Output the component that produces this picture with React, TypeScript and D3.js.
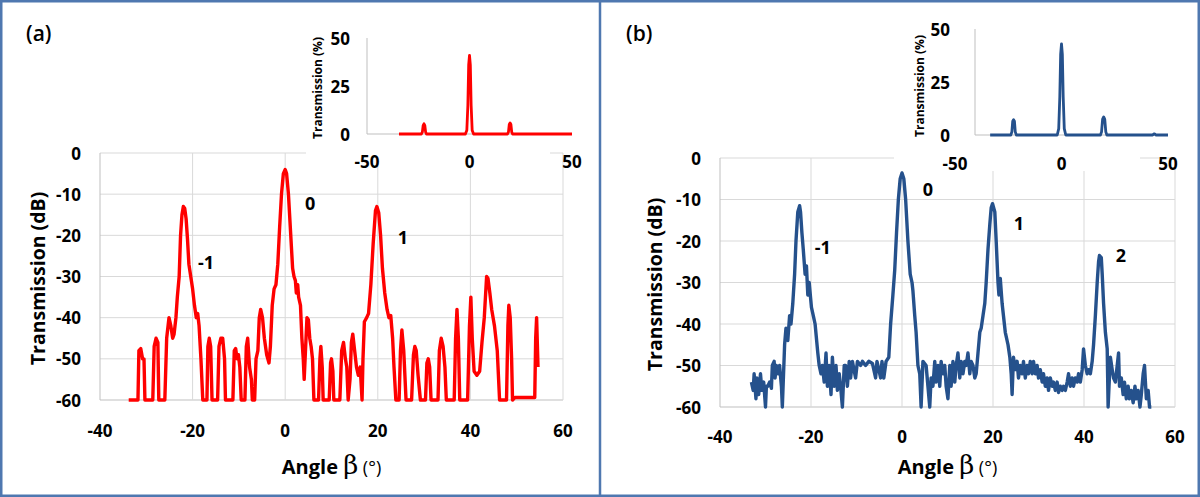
import React from 'react'
import * as d3 from 'd3'

// (a) measured trace, dB vs angle
const angleA = [
  -33.8, -31.8, -31.6, -31.2, -30.8, -30.5, -30.3, -28.6, -28.3, -27.9, -27.5, -27.3, -26.0, -25.6,
  -25.1, -24.7, -24.3, -24.0, -23.6, -23.3, -22.9, -22.6, -22.3, -22.0, -21.7, -21.4, -21.1, -20.8,
  -20.4, -20.0, -19.6, -19.2, -18.9, -18.6, -18.2, -17.8, -16.9, -16.7, -16.4, -16.1, -15.8, -14.6,
  -14.3, -13.9, -13.5, -13.1, -12.9, -11.3, -11.0, -10.7, -10.4, -10.1, -9.8, -9.5, -8.7, -8.4, -8.1,
  -7.7, -7.3, -7.1, -6.6, -6.3, -5.9, -5.6, -5.3, -4.9, -4.5, -4.0, -3.5, -3.2, -2.8, -2.4, -2.0, -1.6,
  -1.2, -0.8, -0.4, 0, 0.3, 0.7, 1.2, 1.6, 1.9, 2.2, 2.4, 2.7, 2.9, 3.3, 3.6, 3.9, 4.1, 4.5, 4.7, 5.0,
  5.3, 5.6, 5.9, 6.2, 7.2, 7.5, 7.7, 8.0, 8.2, 9.5, 9.8, 10.0, 10.3, 10.5, 11.8, 12.2, 12.6, 13.0,
  13.3, 13.6, 14.0, 14.3, 14.6, 15.0, 15.4, 15.8, 16.2, 16.6, 16.8, 17.1, 17.6, 18.0, 18.5, 19.0,
  19.5, 19.8, 20.2, 20.6, 21.0, 21.5, 22.0, 22.4, 22.8, 23.2, 23.5, 23.9, 24.6, 24.9, 25.2, 25.6,
  26.1, 27.3, 27.7, 28.0, 28.3, 28.7, 29.2, 30.3, 30.6, 30.9, 31.2, 31.5, 33.0, 33.3, 33.7, 34.1,
  34.5, 34.8, 36.5, 36.8, 37.1, 37.4, 37.7, 39.4, 39.8, 40.1, 40.4, 40.8, 41.4, 42.0, 42.5, 43.0,
  43.5, 43.8, 44.2, 44.6, 45.2, 45.8, 46.3, 47.8, 48.1, 48.3, 48.6, 48.9, 49.1, 49.6, 53.9, 54.1,
  54.3, 54.5, 54.6,
]
const dbA = [
  -60, -60, -48, -47.5, -50, -50, -60, -60, -47, -45, -46, -60, -60, -45,
  -40, -42, -45, -44, -40, -35, -30, -20, -15, -13, -13.5, -16, -21, -27,
  -30, -33, -37, -40, -39, -42, -50, -60, -60, -47, -45, -47, -60, -60,
  -47, -45, -45, -50, -60, -60, -48, -47.5, -50, -49, -52, -60, -60, -47, -45,
  -52, -55, -60, -60, -50, -48, -40, -38, -40, -45, -49, -51, -47, -37, -33, -32, -27,
  -18, -10, -5, -4, -5, -10, -20, -28, -30, -31, -34, -32, -35, -37, -45, -50, -55, -45, -40, -40.5,
  -45, -47, -50, -60, -60, -50, -47, -52, -60, -60, -51, -50, -53, -60, -60, -48, -46, -50,
  -52, -60, -55, -46, -44, -48, -52, -54, -52, -60, -50, -41, -40, -39, -32, -22,
  -14, -13, -14.5, -20, -28, -34, -38, -40, -39.5, -45, -52, -60, -60, -48, -43, -48,
  -60, -60, -49, -47, -48, -54, -60, -60, -51, -50, -52, -60, -60, -48, -45, -47,
  -52, -60, -60, -45, -38, -45, -60, -60, -42, -35, -45, -53, -54, -53, -46, -40,
  -30, -30.5, -34, -38, -42, -48, -60, -60, -42, -37, -40, -50, -60, -59.4, -59.4, -45,
  -40, -48, -52,
]

// (b) measured trace, dB vs angle
const angleB = [
  -33.1, -32.7, -32.5, -32.1, -31.9, -31.5, -31.1, -30.8, -30.4, -30.0, -29.8, -29.5, -29.1, -28.7,
  -28.5, -28.1, -27.9, -27.6, -27.2, -26.9, -26.5, -26.3, -25.8, -25.5, -25.1, -24.7, -24.4, -24.0,
  -23.6, -23.3, -22.9, -22.5, -22.3, -22.0, -21.7, -21.3, -21.0, -20.7, -20.4, -19.9, -19.5, -19.1,
  -18.5, -18.2, -17.8, -17.5, -17.1, -16.7, -16.4, -16.0, -15.6, -15.3, -14.9, -14.5, -14.2, -13.8,
  -13.5, -13.1, -12.7, -12.4, -12.0, -11.6, -11.3, -10.9, -10.2, -9.8, -9.1, -8.7, -8.0, -7.3, -6.5,
  -5.8, -5.5, -4.7, -4.4, -4.0, -3.5, -2.9, -2.5, -2.0, -1.6, -1.2, -0.8, -0.4, 0, 0.4, 0.8, 1.3, 1.8,
  2.2, 2.4, 2.8, 3.1, 3.5, 3.9, 4.2, 4.6, 5.3, 5.7, 6.1, 6.4, 6.8, 7.2, 7.5, 7.9, 8.3, 8.6, 9.0, 9.4,
  9.7, 10.1, 10.5, 10.8, 11.2, 11.6, 11.9, 12.3, 12.7, 13.0, 13.4, 13.8, 14.1, 14.5, 14.9, 15.2,
  15.6, 16.0, 16.3, 16.7, 17.1, 17.4, 17.8, 18.2, 18.5, 18.9, 19.3, 19.6, 19.9, 20.4, 20.7, 21.1,
  21.3, 21.6, 22.0, 22.3, 22.7, 23.3, 23.7, 24.0, 24.2, 24.5, 24.9, 25.3, 25.6, 26.0, 26.4, 26.7,
  27.1, 27.5, 27.8, 28.2, 28.6, 28.9, 29.3, 29.7, 30.0, 30.4, 30.8, 31.1, 31.5, 31.9, 32.2, 32.6,
  33.0, 33.3, 33.7, 34.1, 34.4, 34.8, 35.2, 35.5, 35.9, 36.3, 36.6, 37.0, 37.4, 37.7, 38.1, 38.5,
  38.8, 39.2, 39.6, 39.9, 40.3, 40.7, 41.0, 41.4, 41.8, 42.1, 42.5, 42.9, 43.2, 43.4, 43.8, 44.0,
  44.3, 44.7, 45.1, 45.3, 45.5, 45.8, 46.2, 46.5, 46.9, 47.3, 47.6, 47.8, 48.2, 48.6, 48.9, 49.3,
  49.7, 50.0, 50.4, 50.8, 51.2, 51.5, 51.9, 52.3, 52.6, 53.0, 53.3, 53.7, 54.1, 54.4, 54.8,
]
const dbB = [
  -54, -56, -52, -58, -53, -57, -52, -56, -54, -60, -55, -55, -54, -55.5,
  -50, -49, -53, -50, -52, -50, -55, -60, -45, -41, -44, -38, -40, -35,
  -28, -20, -13, -11.5, -13, -18, -22, -28, -26, -33, -30, -36, -38, -40,
  -47, -50, -52, -50, -54, -47, -55, -50, -57, -48, -55, -50, -56, -52,
  -55, -60, -50, -50, -55, -49, -53, -49, -53, -49, -50, -49, -50, -49, -49.5,
  -53, -49, -53, -49, -53, -49, -48, -40, -33, -27, -18, -10, -5, -3.6, -5, -10, -20, -28,
  -30, -32, -38, -42, -50, -52, -60, -49, -50, -55, -60, -53, -55, -49, -54, -50, -55, -49, -52, -50,
  -55, -58, -50, -55, -49, -54, -50, -47, -53, -49, -52, -49, -50, -47, -52, -49,
  -50, -53, -52, -47, -42, -41, -38, -35, -30, -22, -16, -12, -11, -13, -20, -30,
  -33, -29, -35, -38, -42, -45, -48, -52, -57, -48, -51, -49, -53, -50, -52, -49,
  -53, -50, -52, -49, -52, -49, -52, -50, -53, -51, -54, -52, -55, -53, -56, -53,
  -55, -54, -56, -54, -56.5, -55, -56, -55, -56, -54, -52, -55, -53, -55, -53, -54,
  -52, -54, -51, -46, -50, -52, -51, -52, -49, -45, -38, -30, -25, -23.5, -24, -28,
  -35, -42, -46, -60, -55, -48, -51, -53, -54, -50, -47, -55, -53, -57, -54, -58,
  -55, -58, -56, -59, -55, -58, -56, -60, -57, -52, -50, -58, -56, -60, -60,
]

// insets, transmission in %
const insetAngleA = [-34.4, -23.5, -23.0, -22.6, -22.2, -21.8, -21.4, -21.0, -2.0, -1.3, -0.8, -0.4, 0, 0.4, 0.8, 1.3, 2.0, 18.5, 19.0, 19.4, 19.8, 20.2, 20.6, 21.0, 50]
const insetPctA = [0, 0, 1, 4.5, 5.3, 4.5, 1, 0, 0, 2, 15, 36, 41, 36, 15, 2, 0, 0, 1, 5, 5.8, 5, 1, 0, 0]
const insetAngleB = [-33.5, -23.8, -23.3, -22.9, -22.5, -22.1, -21.7, -21.2, -2.0, -1.3, -0.8, -0.4, 0, 0.4, 0.8, 1.3, 2.0, 18.3, 18.8, 19.3, 19.8, 20.3, 20.8, 21.3, 42.8, 43.3, 43.8, 44.3, 50]
const insetPctB = [0, 0, 1.5, 6.5, 7.2, 6.5, 1.5, 0, 0, 3, 18, 38, 43, 38, 18, 3, 0, 0, 1.5, 7.5, 8.5, 7.5, 1.5, 0, 0, 0.5, 0.5, 0, 0]

const mainXTicks = [-40, -20, 0, 20, 40, 60]
const mainYTicks = [0, -10, -20, -30, -40, -50, -60]
const insetXTicks = [-50, 0, 50]
const insetYTicks = [0, 25, 50]

// order labels (text, angle, dB)
const notesAText = ['-1', '0', '1']
const notesAAngle = [-17.1, 5.4, 25.4]
const notesADb = [-26.5, -12.1, -20.4]
const notesBText = ['-1', '0', '1', '2']
const notesBAngle = [-17.4, 5.7, 25.7, 48.1]
const notesBDb = [-21.4, -7.5, -15.7, -23.4]

const FONT = "'Open Sans', 'Noto Sans', sans-serif"
const GRID = '#d9d9d9'
const AXIS = '#bfbfbf'

function Panel({ ox, tag, color, angles, values, inAngles, inValues, notes, lay }) {
  const x = d3.scaleLinear().domain([-40, 60]).range([lay.left, lay.right])
  const y = d3.scaleLinear().domain([-60, 0]).range([lay.bottom, lay.top])
  const ix = d3.scaleLinear().domain([-50, 50]).range([lay.inLeft, lay.inRight])
  const iy = d3.scaleLinear().domain([0, 50]).range([lay.inBottom, lay.inTop])

  const mainLine = d3.line().x(d => x(d[0])).y(d => y(d[1]))
  const insetLine = d3.line().x(d => ix(d[0])).y(d => iy(d[1]))
  const pts = angles.map((a, i) => [a, values[i]])
  const inPts = inAngles.map((a, i) => [a, inValues[i]])
  const midX = (lay.left + lay.right) / 2

  return (
    <g>
      <text x={ox + 26} y={41} fontFamily={FONT} fontWeight={600} fontSize={21} fill="#000">{tag}</text>

      {/* main grid */}
      {mainYTicks.map(t => (
        <line key={'gy' + t} x1={lay.left} x2={lay.right} y1={y(t)} y2={y(t)} stroke={t === -60 ? AXIS : GRID} strokeWidth={1} />
      ))}
      {mainXTicks.map(t => (
        <line key={'gx' + t} x1={x(t)} x2={x(t)} y1={lay.top} y2={lay.bottom} stroke={t === -40 ? AXIS : GRID} strokeWidth={1} />
      ))}
      {mainYTicks.map(t => (
        <text key={'ly' + t} x={lay.left - 19} y={y(t)} textAnchor="end" dominantBaseline="central"
          fontFamily={FONT} fontWeight="bold" fontSize={17}>{t}</text>
      ))}
      {mainXTicks.map(t => (
        <text key={'lx' + t} x={x(t)} y={lay.xLabY} textAnchor="middle" dominantBaseline="central"
          fontFamily={FONT} fontWeight="bold" fontSize={17}>{t}</text>
      ))}
      <text transform={`translate(${lay.yTitleX},${(lay.top + lay.bottom) / 2 + 2}) rotate(-90)`} textAnchor="middle"
        dominantBaseline="central" fontFamily={FONT} fontWeight="bold" fontSize={19.5}>Transmission  (dB)</text>
      <text x={midX} y={lay.xTitleY} textAnchor="middle" fontFamily={FONT} fontSize={20}>
        <tspan fontWeight="bold">Angle </tspan>
        <tspan fontFamily="'DejaVu Serif', serif" fontSize={26}>β</tspan>
        <tspan fontSize={18}> (°)</tspan>
      </text>

      {/* inset panel on top of the main one */}
      <rect x={lay.coverX} y={lay.coverY} width={lay.coverW} height={lay.coverH} fill="#fff" />
      <line x1={lay.inAxisX} x2={lay.inAxisX} y1={iy(50)} y2={iy(0)} stroke={AXIS} />
      <line x1={lay.inAxisX} x2={ix(50)} y1={iy(0)} y2={iy(0)} stroke={AXIS} />
      {insetYTicks.map(t => (
        <text key={'iy' + t} x={lay.inAxisX - lay.inLabGap} y={iy(t)} textAnchor="end" dominantBaseline="central"
          fontFamily={FONT} fontWeight="bold" fontSize={17}>{t}</text>
      ))}
      {insetXTicks.map(t => (
        <text key={'ix' + t} x={ix(t)} y={lay.inXLabY} textAnchor="middle" dominantBaseline="central"
          fontFamily={FONT} fontWeight="bold" fontSize={17}>{t}</text>
      ))}
      <text transform={`translate(${lay.inTitleX},${lay.inTitleY}) rotate(-90)`} textAnchor="middle"
        dominantBaseline="central" fontFamily={FONT} fontWeight="bold" fontSize={12}>Transmission  (%)</text>
      <path d={insetLine(inPts)} fill="none" stroke={color} strokeWidth={2.8} strokeLinejoin="round" />

      <path d={mainLine(pts)} fill="none" stroke={color} strokeWidth={3.4} strokeLinejoin="round" />

      {notes.text.map((s, i) => (
        <text key={'n' + i} x={x(notes.angle[i])} y={y(notes.db[i])} textAnchor="middle" dominantBaseline="central"
          fontFamily={FONT} fontWeight="bold" fontSize={18}>{s}</text>
      ))}
    </g>
  )
}

const layoutA = {
  left: 100, right: 563, top: 153, bottom: 400, xLabY: 430, yTitleX: 37, xTitleY: 474,
  inLeft: 367, inRight: 572, inTop: 38, inBottom: 134, inAxisX: 367, inLabGap: 17, inXLabY: 161,
  inTitleX: 317, inTitleY: 88, coverX: 306, coverY: 14, coverW: 244, coverH: 152,
}
const layoutB = {
  left: 720, right: 1175, top: 158, bottom: 407, xLabY: 436, yTitleX: 654, xTitleY: 474,
  inLeft: 955, inRight: 1168, inTop: 29, inBottom: 135, inAxisX: 975, inLabGap: 25, inXLabY: 163,
  inTitleX: 919, inTitleY: 86, coverX: 894, coverY: 8, coverW: 246, coverH: 163,
}

export default function App() {
  return (
    <svg width={1200} height={497} style={{ position: 'absolute', left: 0, top: 0, background: '#fff' }}>
      <rect x={0} y={0} width={1200} height={497} fill="#fff" />
      <Panel ox={0} tag="(a)" color="#ff0000" angles={angleA} values={dbA}
        inAngles={insetAngleA} inValues={insetPctA}
        notes={{ text: notesAText, angle: notesAAngle, db: notesADb }} lay={layoutA} />
      <Panel ox={600} tag="(b)" color="#25518c" angles={angleB} values={dbB}
        inAngles={insetAngleB} inValues={insetPctB}
        notes={{ text: notesBText, angle: notesBAngle, db: notesBDb }} lay={layoutB} />
      <rect x={1.25} y={1.25} width={1197.5} height={494.5} fill="none" stroke="#4f78b0" strokeWidth={2.5} />
      <line x1={600} x2={600} y1={0} y2={497} stroke="#4f78b0" strokeWidth={2.5} />
    </svg>
  )
}
